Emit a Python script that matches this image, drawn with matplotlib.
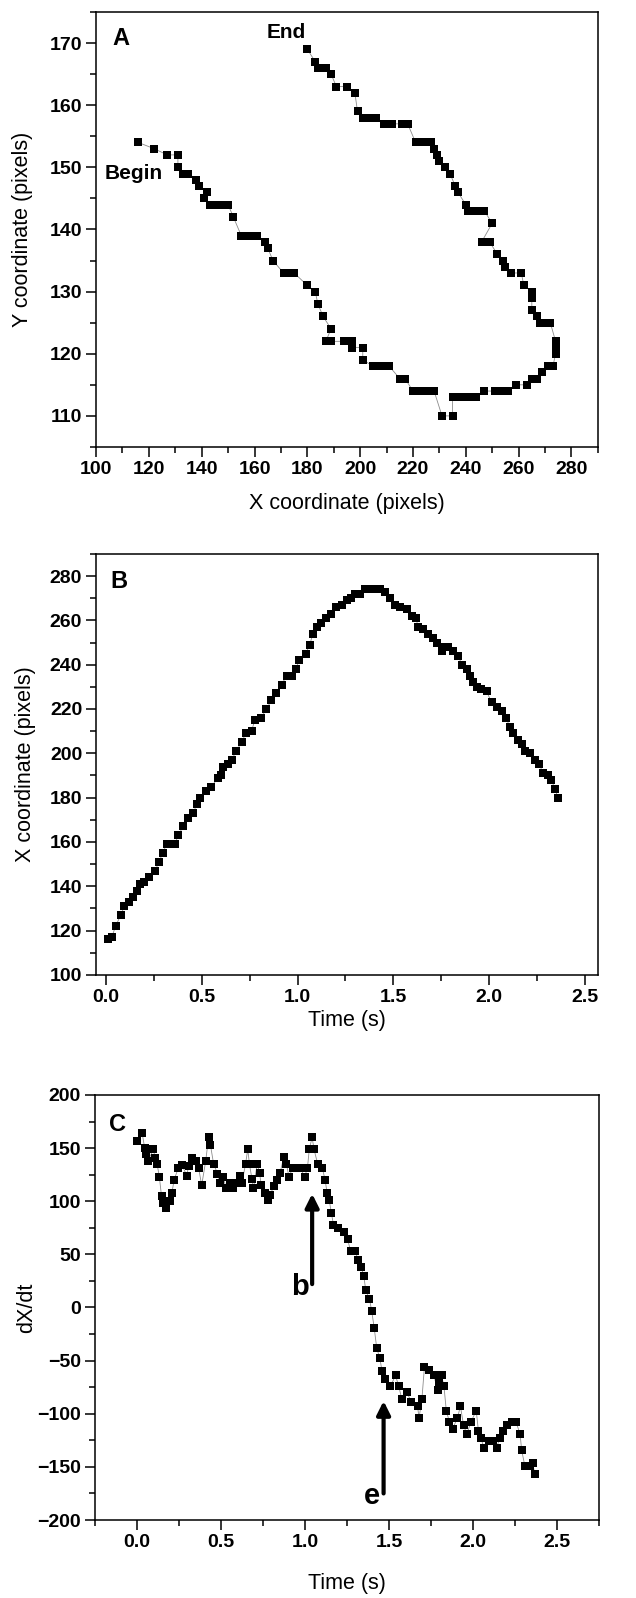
import numpy as np
import matplotlib
matplotlib.use("Agg")
import matplotlib.pyplot as plt
from matplotlib.ticker import MultipleLocator

plt.rcParams['font.family'] = ['Liberation Sans', 'DejaVu Sans']

# -----------------------------------------------------------------------------
#  Panel A: trajectory (pixel coordinates), Begin -> End
# -----------------------------------------------------------------------------
a_x = [116, 122, 127, 131, 131, 133, 135, 138, 139, 142, 141, 143, 145, 147,
       150, 152, 155, 157, 159, 161, 164, 165, 167, 171, 173, 175, 180, 183,
       184, 186, 189, 187, 189, 194, 197, 197, 201, 201, 205, 207, 209, 211,
       215, 217, 220, 223, 225, 228, 231, 235, 235, 238, 241, 244, 247, 251,
       254, 256, 259, 263, 265, 267, 269, 271, 273, 274, 274, 274, 272, 270,
       268, 267, 265, 265, 265, 262, 261, 257, 255, 254, 252, 249, 246, 250,
       247, 244, 241, 240, 237, 236, 234, 232, 230, 229, 228, 227, 224, 221,
       218, 216, 212, 209, 206, 204, 201, 199, 198, 195, 191, 189, 187, 184,
       183, 180]
a_y = [154, 153, 152, 152, 150, 149, 149, 148, 147, 146, 145, 144, 144, 144,
       144, 142, 139, 139, 139, 139, 138, 137, 135, 133, 133, 133, 131, 130,
       128, 126, 124, 122, 122, 122, 122, 121, 121, 119, 118, 118, 118, 118,
       116, 116, 114, 114, 114, 114, 110, 110, 113, 113, 113, 113, 114, 114,
       114, 114, 115, 115, 116, 116, 117, 118, 118, 120, 121, 122, 125, 125,
       125, 126, 127, 129, 130, 131, 133, 133, 134, 135, 136, 138, 138, 141,
       143, 143, 143, 144, 146, 147, 149, 150, 151, 152, 153, 154, 154, 154,
       157, 157, 157, 157, 158, 158, 158, 159, 162, 163, 163, 165, 166, 166,
       167, 169]

# -----------------------------------------------------------------------------
#  Panel B: X coordinate vs time
# -----------------------------------------------------------------------------
b_t = [0.01, 0.03, 0.05, 0.077, 0.096, 0.12, 0.14, 0.16, 0.177, 0.20, 0.226,
       0.256, 0.277, 0.296, 0.317, 0.34, 0.36, 0.377, 0.403, 0.43, 0.456,
       0.473, 0.49, 0.52, 0.55, 0.586, 0.60, 0.612, 0.635, 0.656, 0.68, 0.708,
       0.73, 0.76, 0.777, 0.81, 0.838, 0.864, 0.89, 0.917, 0.943, 0.97, 0.99,
       1.01, 1.043, 1.064, 1.08, 1.10, 1.125, 1.15, 1.177, 1.20, 1.23, 1.256,
       1.28, 1.30, 1.326, 1.352, 1.378, 1.404, 1.43, 1.457, 1.483, 1.509,
       1.535, 1.57, 1.596, 1.618, 1.63, 1.657, 1.683, 1.709, 1.726, 1.752,
       1.76, 1.787, 1.813, 1.84, 1.857, 1.883, 1.90, 1.917, 1.935, 1.96,
       1.987, 2.013, 2.04, 2.065, 2.088, 2.109, 2.126, 2.152, 2.17, 2.187,
       2.213, 2.239, 2.262, 2.283, 2.309, 2.326, 2.343, 2.36]
b_x = [116, 117, 122, 127, 131, 133, 135, 138, 141, 142, 144, 147, 151, 155,
       159, 159, 159, 163, 167, 171, 173, 177, 180, 183, 185, 189, 190, 194,
       195, 197, 201, 205, 209, 210, 215, 216, 220, 224, 227, 231, 235, 235,
       238, 242, 245, 249, 254, 257, 259, 261, 263, 266, 267, 269, 270, 272,
       272, 274, 274, 274, 274, 273, 270, 267, 266, 265, 262, 261, 257, 256,
       254, 252, 250, 246, 248, 248, 246, 244, 240, 238, 235, 232, 230, 229,
       228, 223, 221, 219, 216, 212, 209, 206, 204, 201, 200, 197, 195, 191,
       190, 188, 184, 180]

# -----------------------------------------------------------------------------
#  Panel C: dX/dt vs time
# -----------------------------------------------------------------------------
c_t = [0.004, 0.032, 0.047, 0.056, 0.069, 0.097, 0.11, 0.121, 0.134, 0.147,
       0.157, 0.172, 0.196, 0.209, 0.222, 0.246, 0.27, 0.297, 0.308, 0.33,
       0.353, 0.368, 0.386, 0.41, 0.427, 0.438, 0.457, 0.48, 0.494, 0.513,
       0.532, 0.554, 0.573, 0.59, 0.614, 0.625, 0.647, 0.66, 0.67, 0.685,
       0.694, 0.716, 0.73, 0.74, 0.76, 0.778, 0.793, 0.815, 0.834, 0.853,
       0.875, 0.89, 0.905, 0.927, 0.955, 0.974, 0.998, 1.015, 1.026, 1.043,
       1.054, 1.076, 1.104, 1.12, 1.132, 1.145, 1.157, 1.17, 1.198, 1.235,
       1.254, 1.272, 1.30, 1.315, 1.334, 1.35, 1.362, 1.384, 1.397, 1.412,
       1.427, 1.446, 1.459, 1.478, 1.509, 1.539, 1.558, 1.576, 1.608, 1.632,
       1.67, 1.679, 1.696, 1.711, 1.739, 1.767, 1.79, 1.795, 1.813, 1.827,
       1.841, 1.86, 1.879, 1.907, 1.925, 1.944, 1.963, 1.987, 2.019, 2.032,
       2.047, 2.065, 2.093, 2.121, 2.14, 2.159, 2.177, 2.205, 2.23, 2.256,
       2.28, 2.289, 2.308, 2.336, 2.354, 2.368]
c_v = [157, 164, 150, 144, 138, 149, 141, 135, 123, 105, 98, 94, 100, 108,
       120, 131, 134, 124, 133, 141, 138, 131, 115, 138, 160, 153, 135, 126,
       117, 123, 112, 117, 112, 117, 124, 117, 135, 149, 135, 121, 112, 135,
       127, 115, 108, 101, 106, 114, 120, 127, 142, 135, 123, 131, 131, 131,
       123, 131, 149, 160, 149, 135, 131, 120, 108, 101, 89, 78, 75, 71, 64,
       53, 53, 45, 38, 30, 16, 8, -3, -19, -38, -48, -60, -67, -74, -64, -74,
       -86, -80, -89, -93, -104, -86, -56, -59, -64, -78, -70, -64, -74, -97,
       -108, -114, -104, -93, -111, -119, -108, -97, -116, -123, -132, -126,
       -126, -132, -123, -116, -111, -108, -108, -119, -134, -149, -149, -146,
       -157]

# event arrows in panel C: (label, time, tail value, tip value)
c_events = [("b", 1.043, 22, 107), ("e", 1.468, -175, -88)]


def style_axes(ax, xmaj, xmin, ymaj, ymin):
    ax.xaxis.set_major_locator(MultipleLocator(xmaj))
    ax.xaxis.set_minor_locator(MultipleLocator(xmin))
    ax.yaxis.set_major_locator(MultipleLocator(ymaj))
    ax.yaxis.set_minor_locator(MultipleLocator(ymin))
    ax.tick_params(which='both', direction='out', top=False, right=False,
                   width=1.1)
    ax.tick_params(which='major', length=7, pad=3, labelsize=14)
    ax.tick_params(which='minor', length=4)
    for lab in ax.get_xticklabels() + ax.get_yticklabels():
        lab.set_fontweight('bold')
    for sp in ax.spines.values():
        sp.set_linewidth(1.1)


def trace(ax, x, y):
    ax.plot(x, y, '-', color='0.55', linewidth=0.6, zorder=1)
    ax.plot(x, y, 's', color='black', markersize=6.3, markeredgewidth=0,
            zorder=2)


fig = plt.figure(figsize=(6.36, 15.98), dpi=100)

# ---- A ----
axA = fig.add_axes([0.151, 0.7203, 0.789, 0.2722])
trace(axA, a_x, a_y)
axA.set_xlim(100, 290)
axA.set_ylim(105, 175)
style_axes(axA, 20, 10, 10, 5)
axA.set_xlabel('X coordinate (pixels)', fontsize=15.5)
axA.set_ylabel('Y coordinate (pixels)', fontsize=15.5)
axA.yaxis.set_label_coords(-0.125, 0.5)
axA.xaxis.set_label_coords(0.5, -0.105)
axA.text(0.032, 0.966, 'A', transform=axA.transAxes, fontsize=17,
         fontweight='bold', ha='left', va='top')
axA.text(103.3, 149, 'Begin', fontsize=15, fontweight='bold',
         ha='left', va='center')
axA.text(164.5, 171.7, 'End', fontsize=15, fontweight='bold',
         ha='left', va='center')

# ---- B ----
axB = fig.add_axes([0.151, 0.3899, 0.789, 0.2635])
trace(axB, b_t, b_x)
axB.set_xlim(-0.052, 2.568)
axB.set_ylim(100, 290)
style_axes(axB, 0.5, 0.25, 20, 10)
axB.set_xlabel('Time (s)', fontsize=15.5)
axB.set_ylabel('X coordinate (pixels)', fontsize=15.5)
axB.yaxis.set_label_coords(-0.12, 0.5)
axB.xaxis.set_label_coords(0.5, -0.083)
axB.text(0.028, 0.962, 'B', transform=axB.transAxes, fontsize=17,
         fontweight='bold', ha='left', va='top')

# ---- C ----
axC = fig.add_axes([0.149, 0.0488, 0.793, 0.266])
trace(axC, c_t, c_v)
axC.set_xlim(-0.25, 2.75)
axC.set_ylim(-200, 200)
style_axes(axC, 0.5, 0.25, 50, 25)
axC.set_xlabel('Time (s)', fontsize=15.5)
axC.set_ylabel('dX/dt', fontsize=15.5)
axC.yaxis.set_label_coords(-0.115, 0.5)
axC.xaxis.set_label_coords(0.5, -0.125)
axC.text(0.028, 0.958, 'C', transform=axC.transAxes, fontsize=17,
         fontweight='bold', ha='left', va='top')
for name, t, tail, tip in c_events:
    axC.annotate('', xy=(t, tip), xytext=(t, tail),
                 arrowprops=dict(arrowstyle='-|>', color='black', lw=3,
                                 mutation_scale=20, shrinkA=0, shrinkB=0))
    axC.text(t - 0.07, tail - 10, name, fontsize=21, fontweight='bold',
             ha='center', va='baseline')

fig.savefig('out.png', dpi=100)
